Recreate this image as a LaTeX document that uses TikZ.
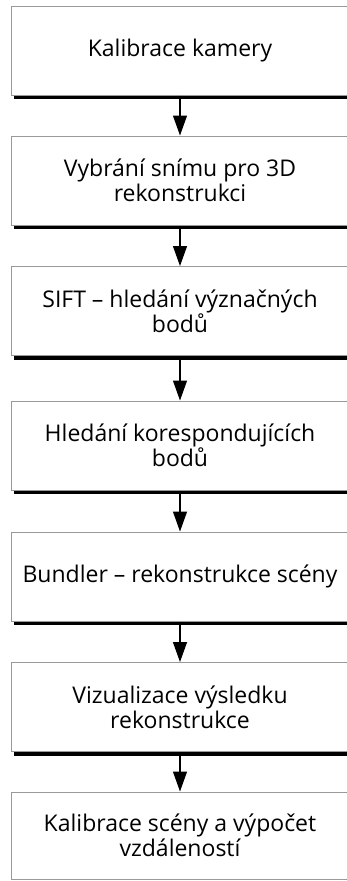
\documentclass[tikz,border=0pt]{standalone}
\usepackage{fontspec}
\setmainfont{Open Sans}
\usetikzlibrary{arrows.meta,shadows}
\begin{document}
\begin{tikzpicture}[x=1pt,y=-1pt,
  stepbox/.style={draw=black!40, line width=1pt, fill=white,
    minimum width=338pt, minimum height=89pt, inner sep=0pt,
    align=center, font=\fontsize{23}{25}\selectfont,
    drop shadow={shadow xshift=3pt, shadow yshift=-4pt, opacity=1, fill=black}},
  lastbox/.style={draw=black!40, line width=1pt, fill=white,
    minimum width=338pt, minimum height=87pt, inner sep=0pt,
    align=center, font=\fontsize{23}{25}\selectfont},
  arr/.style={line width=1.3pt, -{Triangle[length=20pt,width=14pt]}}]
\useasboundingbox (0,0) rectangle (347,881);
\node[stepbox] (b1) at (180,50.5) {Kalibrace kamery};
\node[stepbox] (b2) at (180,180.5) {Vybrání snímu pro 3D\\rekonstrukci};
\node[stepbox] (b3) at (180,311) {SIFT – hledání význačných\\bodů};
\node[stepbox] (b4) at (180,445.5) {Hledání korespondujících\\bodů};
\node[stepbox] (b5) at (180,576.5) {Bundler – rekonstrukce scény};
\node[stepbox] (b6) at (180,707) {Vizualizace výsledku\\rekonstrukce};
\node[lastbox] (b7) at (180,835.5) {Kalibrace scény a výpočet\\vzdáleností};
\draw[arr] (b1.south) -- (b2.north);
\draw[arr] (b2.south) -- (b3.north);
\draw[arr] (b3.south) -- (b4.north);
\draw[arr] (b4.south) -- (b5.north);
\draw[arr] (b5.south) -- (b6.north);
\draw[arr] (b6.south) -- (b7.north);
\end{tikzpicture}
\end{document}
